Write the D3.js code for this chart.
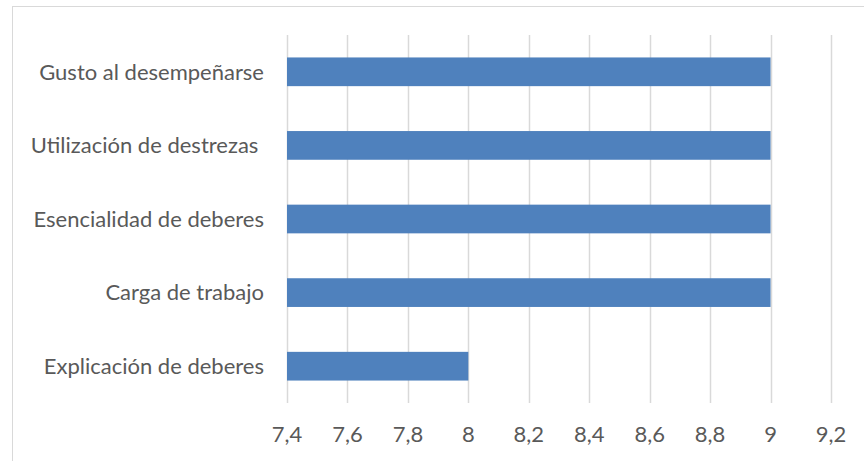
<!DOCTYPE html>
<html>
<head>
<meta charset="utf-8">
<script src="https://cdn.jsdelivr.net/npm/d3@7"></script>
<style>
  html, body { margin: 0; padding: 0; background: #ffffff; }
  svg { display: block; }
  text { font-family: Lato, "Open Sans", sans-serif; fill: #595959; font-weight: 400; }
</style>
</head>
<body>
<svg id="chart" width="864" height="461"></svg>
<script>
// Categories listed bottom-to-top as they appear on the axis
const categories = [
  "Explicación de deberes",
  "Carga de trabajo",
  "Esencialidad de deberes",
  "Utilización de destrezas ",
  "Gusto al desempeñarse"
];
const values = [8, 9, 9, 9, 9];
const tickValues = [7.4, 7.6, 7.8, 8, 8.2, 8.4, 8.6, 8.8, 9, 9.2];

const svg = d3.select("#chart");
const W = 864, H = 461;
const margin = { left: 287, right: 33, top: 35, bottom: 58 };

// Outer chart-area frame (extends past the visible canvas on right/bottom)
svg.append("rect")
  .attr("x", 12.5).attr("y", 6.5)
  .attr("width", 900).attr("height", 500)
  .attr("fill", "none").attr("stroke", "#d9d9d9").attr("stroke-width", 1);

const x = d3.scaleLinear()
  .domain([7.4, 9.2])
  .range([margin.left, W - margin.right]);

const y = d3.scaleBand()
  .domain(categories.slice().reverse())
  .range([margin.top, H - margin.bottom])
  .paddingInner(0.61)
  .paddingOuter(0.305);

const plotTop = margin.top, plotBottom = H - margin.bottom;

// Vertical gridlines
svg.append("g")
  .selectAll("line")
  .data(tickValues)
  .join("line")
  .attr("x1", d => Math.round(x(d)) + 0.5)
  .attr("x2", d => Math.round(x(d)) + 0.5)
  .attr("y1", plotTop)
  .attr("y2", plotBottom)
  .attr("stroke", "#d9d9d9")
  .attr("stroke-width", 1.5);

// Bars
svg.append("g")
  .selectAll("rect")
  .data(categories.map((c, i) => ({ c, v: values[i] })))
  .join("rect")
  .attr("x", x(7.4))
  .attr("y", d => y(d.c))
  .attr("width", d => x(d.v) - x(7.4))
  .attr("height", y.bandwidth())
  .attr("fill", "#4f81bd");

// Value axis labels
const fmt = d => String(d).replace(".", ",");
svg.append("g")
  .selectAll("text")
  .data(tickValues)
  .join("text")
  .attr("x", d => x(d))
  .attr("y", 434)
  .attr("dy", "0.35em")
  .attr("text-anchor", "middle")
  .attr("font-size", 22)
  .text(fmt);

// Category labels
svg.append("g")
  .selectAll("text")
  .data(categories)
  .join("text")
  .attr("x", 264)
  .attr("y", d => y(d) + y.bandwidth() / 2)
  .attr("dy", "0.35em")
  .attr("text-anchor", "end")
  .attr("font-size", 22)
  .style("white-space", "pre")
  .text(d => d);
</script>
</body>
</html>
